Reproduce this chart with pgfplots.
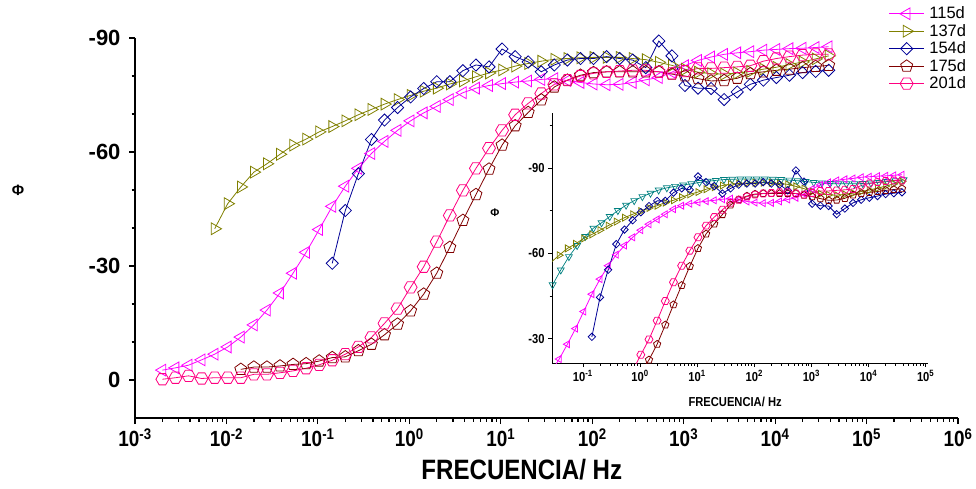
\documentclass[border=0pt]{standalone}
\usepackage{fontspec}
\setmainfont{Liberation Sans}
\newfontfamily\cond{Liberation Sans}[FakeStretch=0.86]
\usepackage{pgfplots}
\usepackage{pgfplotstable}
\pgfplotsset{compat=1.18}
\usetikzlibrary{plotmarks}

\definecolor{cmag}{RGB}{255,0,255}
\definecolor{colive}{RGB}{128,128,0}
\definecolor{cnavy}{RGB}{0,0,150}
\definecolor{cwine}{RGB}{128,0,0}
\definecolor{cpink}{RGB}{255,0,128}
\definecolor{cteal}{RGB}{0,128,128}

% open hexagon marker
\pgfdeclareplotmark{hexagon}{%
  \pgfpathmoveto{\pgfqpointpolar{0}{\pgfplotmarksize}}%
  \pgfpathlineto{\pgfqpointpolar{60}{\pgfplotmarksize}}%
  \pgfpathlineto{\pgfqpointpolar{120}{\pgfplotmarksize}}%
  \pgfpathlineto{\pgfqpointpolar{180}{\pgfplotmarksize}}%
  \pgfpathlineto{\pgfqpointpolar{240}{\pgfplotmarksize}}%
  \pgfpathlineto{\pgfqpointpolar{300}{\pgfplotmarksize}}%
  \pgfpathclose\pgfusepathqstroke}

% phase angle (degrees) against frequency (Hz) for each curing age
\pgfplotstableread{
f        d115   d137   d154   d175   d201
0.001995 -2.6   nan    nan    nan    -0.2
0.002772 -3.2   nan    nan    nan    -0.6
0.003852 -3.9   nan    nan    nan    -1.1
0.005353 -5.3   nan    nan    nan    -0.4
0.007438 -6.8   -39.8  nan    nan    -0.6
0.01033  -8.7   -46.4  nan    nan    -0.6
0.01436  -11.3  -50.8  nan    -2.8   -0.6
0.01995  -14.5  -54.7  nan    -3.4   -1.5
0.02772  -18.4  -56.9  nan    -3.4   -1.5
0.03852  -22.9  -59.4  nan    -3.7   -1.9
0.05353  -28.1  -61.8  nan    -4.1   -2.4
0.07438  -33.6  -63.4  nan    -4.3   -3.1
0.1033   -39.6  -65.3  nan    -5.0   -4.0
0.1436   -45.7  -66.7  -30.7  -5.9   -5.2
0.1995   -51.0  -68.2  -44.6  -6.1   -6.8
0.2772   -55.7  -69.8  -54.3  -7.7   -8.7
0.3852   -59.6  -71.2  -63.3  -9.4   -11.2
0.5353   -62.8  -72.6  -68.4  -11.9  -14.9
0.7438   -65.7  -73.8  -71.7  -14.7  -18.8
1.033    -68.2  -74.9  -74.5  -18.2  -24.4
1.436    -70.3  -76.0  -76.7  -22.6  -29.8
1.995    -72.0  -76.8  -78.5  -28.1  -36.4
2.772    -73.8  -77.9  -78.5  -34.9  -43.3
3.852    -75.6  -78.7  -81.4  -42.0  -49.9
5.353    -76.8  -79.8  -82.9  -48.8  -55.7
7.438    -77.5  -80.8  -82.4  -55.5  -61.0
10.33    -78.0  -81.6  -87.1  -61.8  -65.7
14.36    -78.4  -82.6  -85.1  -66.9  -69.8
19.95    -78.7  -83.3  -83.7  -70.4  -72.8
27.72    -79.1  -83.9  -81.1  -73.7  -75.4
38.52    -79.3  -84.4  -82.9  -77.1  -77.8
53.53    -78.8  -84.6  -84.2  -78.9  -78.9
74.38    -78.3  -84.8  -84.6  -80.2  -80.0
103.3    -77.9  -84.9  -84.6  -80.9  -80.7
143.6    -77.7  -84.9  -85.1  -81.1  -81.1
199.5    -77.8  -84.9  -84.6  -81.1  -81.3
277.2    -78.3  -84.6  -84.2  -81.1  -81.5
385.2    -79.0  -84.3  -82.2  -81.1  -81.5
535.3    -79.6  -83.6  -89.2  -81.1  -81.1
743.8    -81.0  -82.8  -85.3  -80.5  -80.7
1033     -82.7  -81.8  -77.5  -80.0  -81.3
1436     -84.1  -81.0  -76.8  -79.3  -82.0
1995     -85.0  -80.6  -76.7  -78.7  -82.0
2772     -85.7  -80.5  -73.8  -78.8  -82.2
3852     -86.1  -80.8  -75.8  -79.4  -82.4
5353     -86.4  -81.2  -77.8  -80.6  -82.7
7438     -86.8  -81.8  -78.9  -81.1  -83.9
10330    -87.0  -82.3  -79.6  -81.5  -84.6
14360    -87.2  -83.0  -80.2  -81.8  -85.1
19950    -87.3  -83.7  -80.9  -82.2  -85.5
27720    -87.5  -84.5  -81.2  -82.5  -85.7
38520    -87.7  -85.3  -81.5  -82.8  -85.7
}\phase

% extra series shown only in the inset
\pgfplotstableread{
f        phi
0.02951  -49.0
0.04100  -54.2
0.05697  -58.9
0.07916  -62.8
0.1100   -66.0
0.1528   -68.9
0.2123   -70.8
0.2951   -73.0
0.4100   -75.1
0.5697   -77.0
0.7916   -78.6
1.100    -80.0
1.528    -81.2
2.123    -82.3
2.951    -83.1
4.100    -83.6
5.697    -84.1
7.916    -84.5
11.00    -85.0
15.28    -85.4
21.23    -85.7
29.51    -86.0
41.00    -86.1
56.97    -86.2
79.16    -86.2
110.0    -86.2
152.8    -86.2
212.3    -86.1
295.1    -86.0
410.0    -85.8
569.7    -85.6
791.6    -85.3
1100     -85.0
1528     -84.8
2123     -84.6
2951     -84.5
4100     -84.5
5697     -84.5
7916     -84.6
11000    -84.8
15280    -85.0
21230    -85.3
29510    -85.6
41000    -85.9
}\extra

\pgfplotsset{
  s115/.style={color=cmag, line width=0.8pt, mark=triangle, mark options={rotate=90, line width=0.8pt}},
  s137/.style={color=colive, line width=0.8pt, mark=triangle, mark options={rotate=-90, line width=0.8pt}},
  s154/.style={color=cnavy, line width=0.8pt, mark=square, mark options={rotate=45, line width=0.8pt}},
  s175/.style={color=cwine, line width=0.8pt, mark=pentagon, mark options={line width=0.8pt}},
  s201/.style={color=cpink, line width=0.8pt, mark=hexagon, mark options={line width=0.8pt}},
  sext/.style={color=cteal, line width=0.7pt, mark=triangle, mark options={rotate=180, line width=0.7pt}},
}

\begin{document}
\begin{tikzpicture}[x=1pt,y=1pt]
\useasboundingbox (0,0) rectangle (976,488);

\begin{axis}[
  at={(135pt,70pt)}, anchor=south west,
  scale only axis, width=823pt, height=380pt,
  xmode=log, xmin=1e-3, xmax=1e6,
  ymin=-90, ymax=10, y dir=reverse,
  axis x line*=bottom, axis y line*=left,
  axis line style={-, line width=1.6pt},
  tick align=outside,
  major tick length=6pt, minor tick length=3.5pt,
  every tick/.style={black, line width=1.2pt},
  xtick={1e-3,1e-2,1e-1,1,1e1,1e2,1e3,1e4,1e5,1e6},
  ytick={-90,-60,-30,0}, yticklabels={-90,-60,-30,0},
  minor ytick={-80,-70,-50,-40,-20,-10},
  xticklabel={\pgfmathparse{int(round(\tick/2.302585093))}10\textsuperscript{\pgfmathresult}},
  xticklabel style={font=\cond\bfseries\fontsize{22}{24}\selectfont, yshift=-1pt},
  yticklabel style={font=\bfseries\fontsize{22}{24}\selectfont, xshift=-5pt},
  xlabel={FRECUENCIA/ Hz},
  xlabel style={font=\cond\bfseries\fontsize{28}{30}\selectfont, at={(axis description cs:0.470,-0.137)}, anchor=center},
  ylabel={Φ},
  ylabel style={font=\bfseries\fontsize{15}{17}\selectfont, rotate=-90, at={(axis description cs:-0.142,0.6)}, anchor=center},
  legend style={at={(axis description cs:0.912,1.092)}, anchor=north west, draw=none, fill=none,
    font=\fontsize{16.5}{18}\selectfont, row sep=0.4pt, column sep=3pt, nodes={inner sep=1.8pt}},
  legend cell align=left,
  legend image code/.code={\draw[mark repeat=2, mark phase=2] plot coordinates {(0pt,0pt) (17.5pt,0pt) (35pt,0pt)};},
  clip=false,
]
\addplot[s115, mark size=6.8pt] table[x=f, y=d115] {\phase};
\addlegendentry{115d}
\addplot[s137, mark size=6.8pt] table[x=f, y=d137] {\phase};
\addlegendentry{137d}
\addplot[s154, mark size=4.3pt] table[x=f, y=d154] {\phase};
\addlegendentry{154d}
\addplot[s175, mark size=6.3pt] table[x=f, y=d175] {\phase};
\addlegendentry{175d}
\addplot[s201, mark size=6.5pt] table[x=f, y=d201] {\phase};
\addlegendentry{201d}
\end{axis}

% inset
\begin{axis}[
  at={(552pt,125pt)}, anchor=south west,
  scale only axis, width=376pt, height=250pt,
  xmode=log, xmin=0.0288, xmax=1.1e5,
  ymin=-109.4, ymax=-21.5, y dir=reverse,
  axis x line*=bottom, axis y line*=left,
  axis line style={-, line width=0.8pt},
  tick align=outside,
  major tick length=4pt, minor tick length=2.5pt,
  every tick/.style={black, line width=0.7pt},
  xtick={1e-1,1,1e1,1e2,1e3,1e4,1e5},
  ytick={-90,-60,-30}, yticklabels={-90,-60,-30},
  minor ytick={-105,-75,-45},
  xticklabel={\pgfmathparse{int(round(\tick/2.302585093))}10\textsuperscript{\pgfmathresult}},
  xticklabel style={font=\cond\bfseries\fontsize{13}{15}\selectfont},
  yticklabel style={font=\cond\bfseries\fontsize{13}{15}\selectfont},
  xlabel={FRECUENCIA/ Hz},
  xlabel style={font=\cond\bfseries\fontsize{13}{15}\selectfont, at={(axis description cs:0.487,-0.156)}, anchor=center},
  ylabel={Φ},
  ylabel style={font=\bfseries\fontsize{11}{13}\selectfont, rotate=-90, at={(axis description cs:-0.152,0.6)}, anchor=center},
]
\addplot[sext, mark size=4pt] table[x=f, y=phi] {\extra};
\addplot[s137, mark size=4pt] table[x=f, y=d137] {\phase};
\addplot[s115, mark size=4pt] table[x=f, y=d115] {\phase};
\addplot[s154, mark size=2.6pt] table[x=f, y=d154] {\phase};
\addplot[s175, mark size=3.8pt] table[x=f, y=d175] {\phase};
\addplot[s201, mark size=4pt] table[x=f, y=d201] {\phase};
\end{axis}
\end{tikzpicture}
\end{document}
